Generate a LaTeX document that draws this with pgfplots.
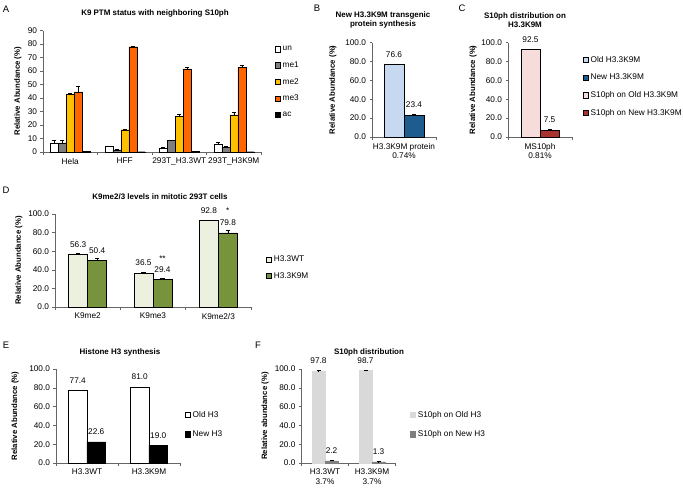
\documentclass[border=0pt]{standalone}
\usepackage{fontspec}
\setmainfont{Liberation Sans}
\usepackage{pgfplots}
\pgfplotsset{compat=1.18}

\definecolor{cme1}{HTML}{7F7F7F}
\definecolor{cme2}{HTML}{FFC000}
\definecolor{cme3}{HTML}{FF6600}
\definecolor{lblue}{HTML}{C6D9F1}
\definecolor{dblue}{HTML}{1F5C8E}
\definecolor{lpink}{HTML}{F7DCDC}
\definecolor{dred}{HTML}{A8322E}
\definecolor{lgreen}{HTML}{EBF1DE}
\definecolor{dgreen}{HTML}{77933C}
\definecolor{lgray}{HTML}{D9D9D9}
\definecolor{dgray}{HTML}{7F7F7F}

\newcommand{\tk}{\fontsize{8.3}{9.6}\selectfont}
\newcommand{\lb}{\fontsize{7.8}{9}\selectfont\bfseries}
\newcommand{\ttl}{\fontsize{8}{9.6}\selectfont\bfseries}
\newcommand{\pl}{\fontsize{9.5}{11}\selectfont}

\pgfplotsset{
  sqlegend/.style={legend image code/.code={%
    \draw[##1,line width=0.4pt] (0bp,-2.6bp) rectangle (5.2bp,2.6bp);}},
  eb/.style={error bars/y dir=plus, error bars/y explicit,
    error bars/error bar style={black, line width=0.5pt},
    error bars/error mark options={rotate=90, black, mark size=2bp, line width=0.5pt}},
  dec/.style={yticklabel style={/pgf/number format/fixed,
    /pgf/number format/fixed zerofill, /pgf/number format/precision=1}},
  vals/.style={nodes near coords, every node near coord/.append style={font=\tk,
    /pgf/number format/fixed, /pgf/number format/fixed zerofill,
    /pgf/number format/precision=1, black, yshift=#1}},
  vals/.default=3.5bp,
  panel/.style={
    scale only axis, anchor=south west, clip=false,
    axis x line=bottom, axis y line=left,
    axis line style={-, draw=black!60, line width=0.5pt},
    tick align=outside, major tick length=2.5bp, minor tick length=3bp,
    tick style={draw=black!60, line width=0.5pt},
    every major x tick/.append style={draw=none},
    ymin=0, xmin=0, ybar=0pt,
    /pgf/number format/assume math mode=true,
    tick label style={font=\tk},
    xticklabel style={align=center},
    ylabel style={font=\lb, anchor=center},
    legend style={draw=none, fill=none, font=\tk, anchor=north west,
      inner sep=0pt, cells={anchor=west}},
    legend cell align=left,
    sqlegend,
    every axis plot post/.append style={sqlegend},
  },
}

\begin{document}
\begin{tikzpicture}
\path[use as bounding box] (0bp,0bp) rectangle (683bp,-492bp);

\node[font=\pl] at (6bp,-9bp) {A};
\node[font=\pl] at (317bp,-8bp) {B};
\node[font=\pl] at (462bp,-8bp) {C};
\node[font=\pl] at (6bp,-190bp) {D};
\node[font=\pl] at (6bp,-345bp) {E};
\node[font=\pl] at (258bp,-345bp) {F};

\node[font=\ttl] at (155bp,-13bp) {K9 PTM status with neighboring S10ph};
\node[font=\ttl, align=center] at (383bp,-20bp) {New H3.3K9M transgenic\\protein synthesis};
\node[font=\ttl, align=center] at (525bp,-20bp) {S10ph distribution on\\H3.3K9M};
\node[font=\ttl] at (160bp,-197bp) {K9me2/3 levels in mitotic 293T cells};
\node[font=\ttl] at (120bp,-352bp) {Histone H3 synthesis};
\node[font=\ttl] at (369bp,-352bp) {S10ph distribution};

% ---- A
\begin{axis}[panel, at={(43bp,-152bp)}, width=218bp, height=121.5bp,
  xmax=4, ymax=90, ytick={0,10,...,90}, bar width=8bp,
  xtick={0.5,1.5,2.5,3.5}, xticklabels={Hela,HFF,293T\_H3.3WT,293T\_H3K9M},
  minor xtick={0,1,2,3,4},
  ylabel={Relative Abundance (\%)},
  ylabel style={at={(axis description cs:-0.115,0.5)}},
  legend style={at={(axis description cs:1.064,0.889)}, row sep=5.5bp}]
\addplot[fill=white, draw=black, line width=0.4pt, eb] coordinates
  {(0.5,6.5)+-(0,2.5) (1.5,4.0)+-(0,0.5) (2.5,3.0)+-(0,0.4) (3.5,6.0)+-(0,1.5)};
\addplot[fill=cme1, draw=black, line width=0.4pt, eb] coordinates
  {(0.5,6.8)+-(0,2.2) (1.5,1.5)+-(0,0.3) (2.5,8.5)+-(0,0.4) (3.5,3.5)+-(0,0.5)};
\addplot[fill=cme2, draw=black, line width=0.4pt, eb] coordinates
  {(0.5,42.5)+-(0,1.2) (1.5,16.5)+-(0,0.3) (2.5,26.5)+-(0,1.5) (3.5,27.5)+-(0,2.0)};
\addplot[fill=cme3, draw=black, line width=0.4pt, eb] coordinates
  {(0.5,44.5)+-(0,4.5) (1.5,78.0)+-(0,0.6) (2.5,61.5)+-(0,1.3) (3.5,62.5)+-(0,1.5)};
\addplot[fill=black, draw=black, line width=0.4pt] coordinates
  {(0.5,0.3) (1.5,0.2) (2.5,0.3) (3.5,0.2)};
\legend{un,me1,me2,me3,ac}
\end{axis}

% ---- B
\begin{axis}[panel, dec, at={(372bp,-137bp)}, width=64bp, height=94.5bp,
  xmax=1, ymax=100, ytick={0,20,...,100}, bar width=20bp,
  xtick={0.5}, xticklabels={{H3.3K9M protein\\0.74\%}}, minor xtick={0,1},
  ylabel={Relative Abundance (\%)},
  ylabel style={at={(axis description cs:-0.61,0.5)}}]
\addplot[fill=lblue, draw=black, line width=0.4pt, eb, vals] coordinates {(0.5,76.6)+-(0,0.5)};
\addplot[fill=dblue, draw=black, line width=0.4pt, eb, vals] coordinates {(0.5,23.4)+-(0,0.4)};
\end{axis}

% ---- C
\begin{axis}[panel, dec, at={(508bp,-137bp)}, width=64bp, height=94.5bp,
  xmax=1, ymax=100, ytick={0,20,...,100}, bar width=19bp,
  xtick={0.5}, xticklabels={{MS10ph\\0.81\%}}, minor xtick={0,1},
  ylabel={Relative Abundance (\%)},
  ylabel style={at={(axis description cs:-0.547,0.5)}},
  legend style={at={(axis description cs:1.17,0.878)}, row sep=6.3bp}]
\addlegendimage{fill=lblue, draw=black}
\addlegendimage{fill=dblue, draw=black}
\addplot[fill=lpink, draw=black, line width=0.4pt, eb, vals] coordinates {(0.5,92.5)+-(0,0.3)};
\addplot[fill=dred, draw=black, line width=0.4pt, eb, vals] coordinates {(0.5,7.5)+-(0,0.4)};
\legend{Old H3.3K9M,New H3.3K9M,S10ph on Old H3.3K9M,S10ph on New H3.3K9M}
\end{axis}

% ---- D
\begin{axis}[panel, dec, at={(55bp,-307bp)}, width=196bp, height=93bp,
  xmax=3, ymax=100, ytick={0,20,...,100}, bar width=19bp,
  xtick={0.5,1.5,2.5}, xticklabels={K9me2,K9me3,K9me2/3}, minor xtick={0,1,2,3},
  ylabel={Relative Abundance (\%)},
  ylabel style={at={(axis description cs:-0.184,0.5)}},
  legend style={at={(axis description cs:1.077,0.57)}, row sep=4.8bp}]
\addplot[fill=lgreen, draw=black, line width=0.4pt, eb, vals] coordinates
  {(0.5,56.3)+-(0,1.5) (1.5,36.5)+-(0,1.0) (2.5,92.8)+-(0,0.5)};
\addplot[fill=dgreen, draw=black, line width=0.4pt, eb, vals] coordinates
  {(0.5,50.4)+-(0,2.5) (1.5,29.4)+-(0,1.0) (2.5,79.8)+-(0,3.0)};
\node[font=\tk, anchor=south, yshift=8bp] at (axis cs:1.645,36.5) {**};
\node[font=\tk, anchor=south, yshift=4bp] at (axis cs:2.645,92.8) {*};
\legend{H3.3WT,H3.3K9M}
\end{axis}

% ---- E
\begin{axis}[panel, dec, at={(56bp,-463bp)}, width=124bp, height=94bp,
  xmax=2, ymax=100, ytick={0,20,...,100}, bar width=18.5bp,
  xtick={0.5,1.5}, xticklabels={H3.3WT,H3.3K9M}, minor xtick={0,1,2},
  ylabel={Relative Abundance (\%)},
  ylabel style={at={(axis description cs:-0.33,0.5)}},
  legend style={at={(axis description cs:1.04,0.574)}, row sep=7.8bp}]
\addplot[fill=white, draw=black, line width=0.4pt, vals] coordinates {(0.5,77.4) (1.5,81.0)};
\addplot[fill=black, draw=black, line width=0.4pt, vals] coordinates {(0.5,22.6) (1.5,19.0)};
\legend{Old H3,New H3}
\end{axis}

% ---- F
\begin{axis}[panel, dec, at={(301.5bp,-463bp)}, width=94bp, height=94bp,
  xmax=2, ymax=100, ytick={0,20,...,100}, bar width=13bp,
  xtick={0.5,1.5}, xticklabels={{H3.3WT\\3.7\%},{H3.3K9M\\3.7\%}}, minor xtick={0,1,2},
  ylabel={Relative abundance (\%)},
  ylabel style={at={(axis description cs:-0.388,0.5)}},
  legend style={at={(axis description cs:1.154,0.574)}, row sep=7.8bp}]
\addplot[fill=lgray, draw=lgray, line width=0.4pt, eb, vals] coordinates
  {(0.5,97.8)+-(0,0.5) (1.5,98.7)+-(0,0.5)};
\addplot[fill=dgray, draw=dgray, line width=0.4pt, eb, vals] coordinates
  {(0.5,2.2)+-(0,0.5) (1.5,1.3)+-(0,0.3)};
\legend{S10ph on Old H3,S10ph on New H3}
\end{axis}
\end{tikzpicture}
\end{document}
